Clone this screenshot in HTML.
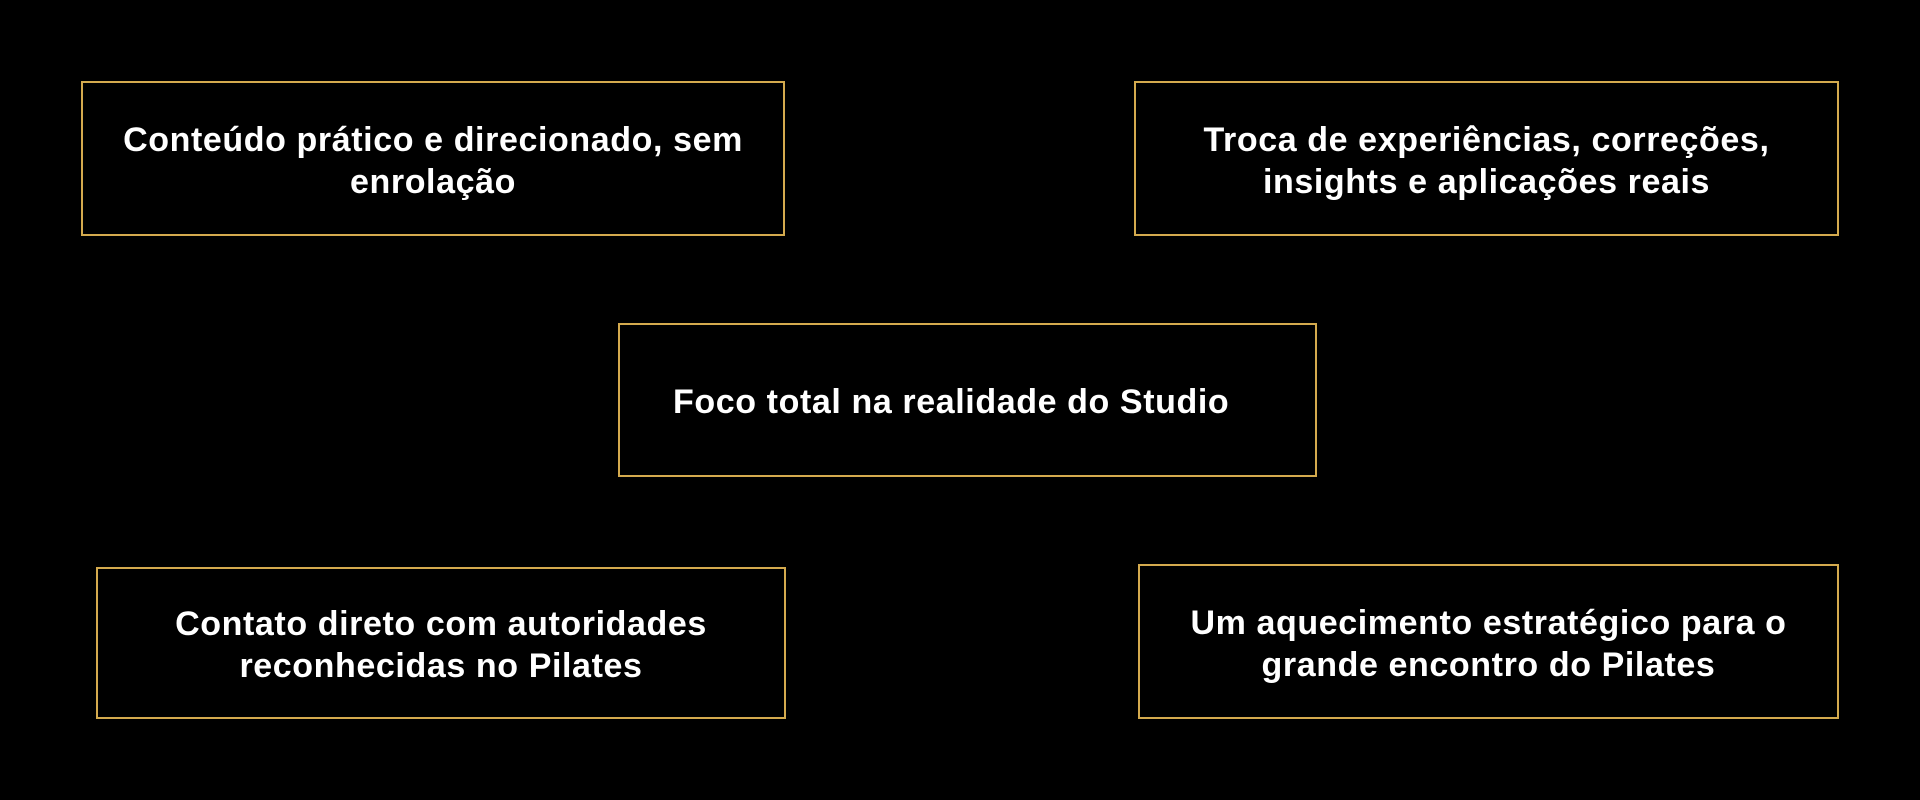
<!DOCTYPE html>
<html><head><meta charset="utf-8"><style>
html,body{margin:0;padding:0;background:#000;width:1920px;height:800px;overflow:hidden}
.b{position:absolute;border:2px solid #d4aa4e;box-sizing:border-box;display:flex;align-items:center;justify-content:center;text-align:center;color:#fff;font-family:"Liberation Sans",sans-serif;font-weight:bold;font-size:34px;letter-spacing:0.6px;line-height:42px;padding:4px 10px 0}
</style></head><body>
<div class="b" style="left:81px;top:81px;width:704px;height:155px">Conteúdo prático e direcionado, sem<br>enrolação</div>
<div class="b" style="left:1134px;top:81px;width:705px;height:155px">Troca de experiências, correções,<br>insights e aplicações reais</div>
<div class="b" style="left:618px;top:323px;width:699px;height:154px;justify-content:flex-start;padding-left:53px">Foco total na realidade do Studio</div>
<div class="b" style="left:96px;top:567px;width:690px;height:152px">Contato direto com autoridades<br>reconhecidas no Pilates</div>
<div class="b" style="left:1138px;top:564px;width:701px;height:155px">Um aquecimento estratégico para o<br>grande encontro do Pilates</div>
</body></html>
